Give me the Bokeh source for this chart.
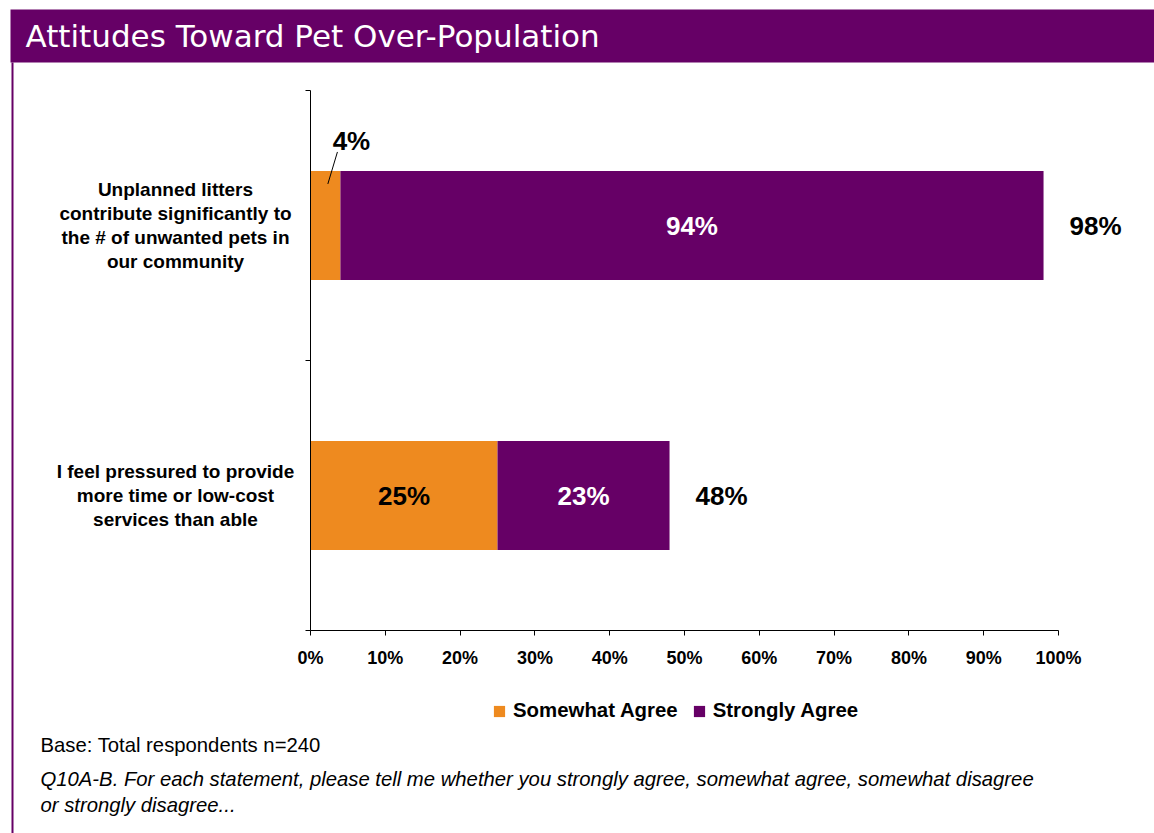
from bokeh.plotting import figure
from bokeh.models import (Range1d, FixedTicker, BoxAnnotation, Label, LabelSet,
                          ColumnDataSource, Legend, LegendItem)
from bokeh.core.properties import value
from bokeh.embed import file_html
from bokeh.resources import INLINE

# ---------------- data ----------------
title_text = "Attitudes Toward Pet Over-Population"
categories = [
    "Unplanned litters\ncontribute significantly to\nthe # of unwanted pets in\nour community",
    "I feel pressured to provide\nmore time or low-cost\nservices than able",
]
somewhat_agree = [4, 25]
strongly_agree = [94, 23]
series_names = ["Somewhat Agree", "Strongly Agree"]
x_ticks = [0, 10, 20, 30, 40, 50, 60, 70, 80, 90, 100]
x_tick_labels = ["0%", "10%", "20%", "30%", "40%", "50%", "60%", "70%", "80%", "90%", "100%"]
base_note = "Base: Total respondents n=240"
question_note = ("Q10A-B. For each statement, please tell me whether you strongly agree, "
                 "somewhat agree, somewhat disagree\nor strongly disagree...")

# ---------------- style / layout ----------------
PURPLE = "#660066"
ORANGE = "#EE8A1F"
FONT = "Liberation Sans"
W, H = 1154, 833
# pixel box of the plotting area inside the canvas
PL, PR, PT, PB = 310, 1058, 90, 630
BAR_H = 0.404

n = len(categories)
ypos = [n - i - 0.5 for i in range(n)]
totals = [a + b for a, b in zip(somewhat_agree, strongly_agree)]

xmax = 100
xs = (PR - PL) / xmax          # px per unit
ys = (PB - PT) / n
x_range = Range1d(-PL / xs, xmax + (W - PR) / xs)
y_range = Range1d(-(H - PB) / ys, n + PT / ys)

p = figure(width=W, height=H, output_backend="svg", toolbar_location=None,
           x_range=x_range, y_range=y_range, min_border=0, title=None)
p.outline_line_color = None
p.grid.visible = False
p.background_fill_color = "white"
p.border_fill_color = "white"

src = ColumnDataSource(dict(y=ypos, sa=somewhat_agree, st=strongly_agree, tot=totals))
r1 = p.hbar(y="y", left=0, right="sa", height=BAR_H, source=src,
            fill_color=ORANGE, line_color=None)
r2 = p.hbar(y="y", left="sa", right="tot", height=BAR_H, source=src,
            fill_color=PURPLE, line_color=None)

# axes (pinned inside the canvas)
xa = p.xaxis[0]
xa.fixed_location = 0
xa.bounds = (0, xmax)
xa.ticker = FixedTicker(ticks=x_ticks)
xa.major_label_overrides = {t: l for t, l in zip(x_ticks, x_tick_labels)}
xa.major_label_text_font = FONT
xa.major_label_text_font_style = "bold"
xa.major_label_text_font_size = "18px"
xa.major_label_text_color = "black"
xa.major_label_standoff = 12
xa.major_tick_out = 5
xa.major_tick_in = 0
xa.minor_tick_out = 0
xa.minor_tick_in = 0
xa.axis_line_color = "black"
xa.major_tick_line_color = "black"

ya = p.yaxis[0]
ya.fixed_location = 0
ya.bounds = (0, n)
ya.ticker = FixedTicker(ticks=list(range(n + 1)))
ya.major_label_text_font_size = "0px"
ya.major_label_text_alpha = 0
ya.major_tick_out = 5
ya.major_tick_in = 0
ya.minor_tick_out = 0
ya.minor_tick_in = 0
ya.axis_line_color = "black"
ya.major_tick_line_color = "black"

# category labels
for cat, y in zip(categories, ypos):
    p.add_layout(Label(x=175, x_units="canvas", y=y, y_units="data", text=cat,
                       text_font=FONT, text_font_style="bold", text_font_size="19px",
                       text_align="center", text_baseline="middle",
                       text_line_height=1.13, text_color="black"))

# value labels inside bars
ins = dict(x=[], y=[], text=[], color=[])
for i in range(n):
    sa, st, y = somewhat_agree[i], strongly_agree[i], ypos[i]
    if sa >= 10:
        ins["x"].append(sa / 2); ins["y"].append(y)
        ins["text"].append(f"{sa}%"); ins["color"].append("black")
    else:
        top = y + BAR_H / 2
        p.add_layout(Label(x=sa, y=top, x_offset=11, y_offset=30, text=f"{sa}%",
                           text_font=FONT, text_font_style="bold", text_font_size="26px",
                           text_align="center", text_baseline="middle", text_color="black"))
        p.segment(x0=sa * 0.58, y0=top - 13 / ys, x1=sa * 0.9, y1=top + 19 / ys,
                  line_color="black", line_width=1)
    ins["x"].append(sa + st / 2); ins["y"].append(y)
    ins["text"].append(f"{st}%"); ins["color"].append("white")

p.add_layout(LabelSet(x="x", y="y", text="text", source=ColumnDataSource(ins),
                      text_color="color", text_font=value(FONT), text_font_style="bold",
                      text_font_size="26px", text_align="center", text_baseline="middle"))

tsrc = ColumnDataSource(dict(x=totals, y=ypos, text=[f"{t}%" for t in totals]))
p.add_layout(LabelSet(x="x", y="y", text="text", source=tsrc, x_offset=26,
                      text_color="black", text_font=value(FONT), text_font_style="bold",
                      text_font_size="26px", text_align="left", text_baseline="middle"))

# legend
legend = Legend(items=[LegendItem(label=series_names[0], renderers=[r1]),
                       LegendItem(label=series_names[1], renderers=[r2])],
                orientation="horizontal", location=(492, H - 722),
                border_line_color=None, background_fill_alpha=0,
                glyph_width=14, glyph_height=14, label_standoff=7, spacing=14,
                padding=0, margin=0, label_text_font=FONT, label_text_color="black",
                label_text_font_style="bold", label_text_font_size="20.4px")
p.add_layout(legend)

# title bar and frame line
p.add_layout(BoxAnnotation(left=10, right=W, top=9, bottom=62,
                           left_units="canvas", right_units="canvas",
                           top_units="canvas", bottom_units="canvas",
                           fill_color=PURPLE, fill_alpha=1, line_color=None))
p.add_layout(BoxAnnotation(left=11, right=13, top=62, bottom=H,
                           left_units="canvas", right_units="canvas",
                           top_units="canvas", bottom_units="canvas",
                           fill_color=PURPLE, fill_alpha=1, line_color=None))
p.add_layout(Label(x=25, y=35, x_units="canvas", y_units="canvas", text=title_text,
                   text_font="DejaVu Sans", text_font_size="31px", text_color="white",
                   text_baseline="middle"))

# footnotes
p.add_layout(Label(x=40, y=744, x_units="canvas", y_units="canvas", text=base_note,
                   text_font=FONT, text_font_size="20.3px", text_color="black",
                   text_baseline="middle"))
p.add_layout(Label(x=40, y=791.5, x_units="canvas", y_units="canvas", text=question_note,
                   text_font=FONT, text_font_size="20.3px", text_font_style="italic",
                   text_color="black", text_baseline="middle", text_line_height=1.2))

open("out.html", "w").write(file_html(p, INLINE))
